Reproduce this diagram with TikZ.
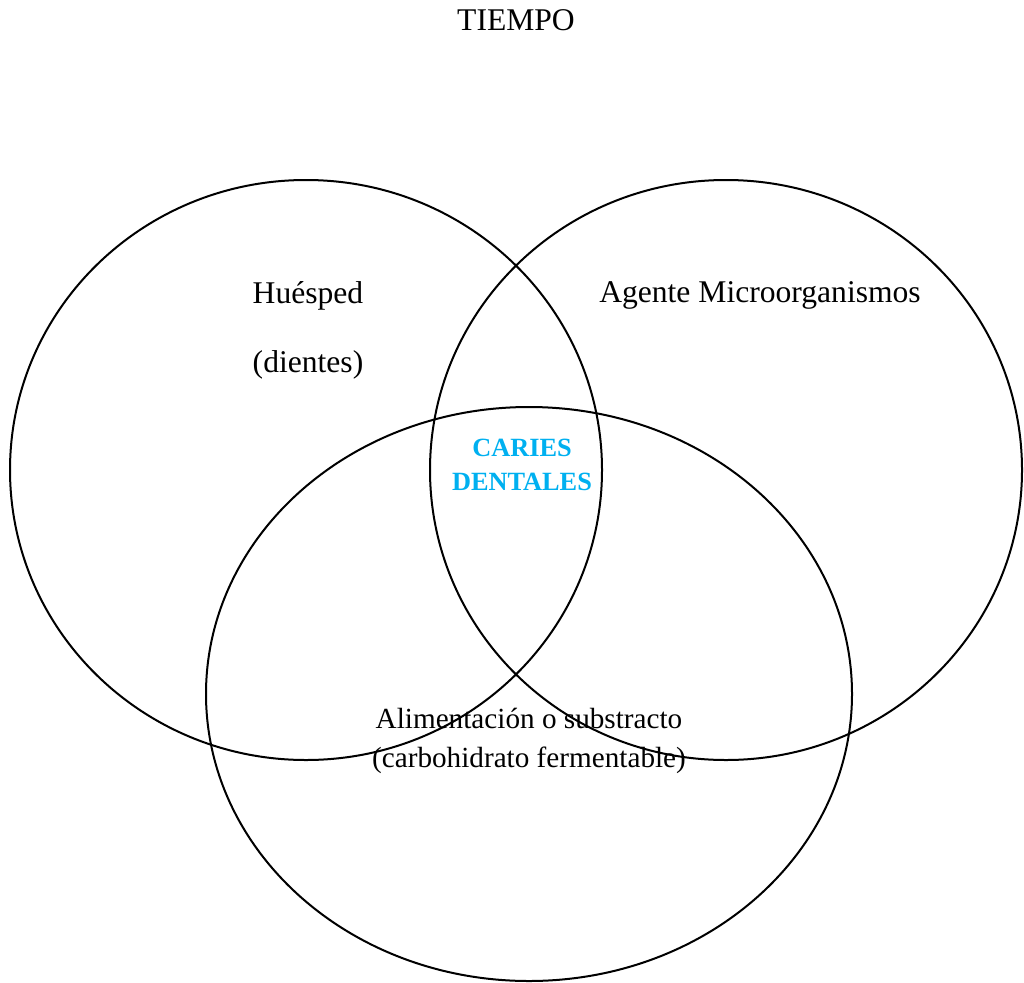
\documentclass[tikz,border=0pt]{standalone}
\usepackage{fontspec}
\setmainfont{Liberation Serif}
\definecolor{cariesblue}{HTML}{00B0F0}
\begin{document}
\begin{tikzpicture}[x=1pt,y=-1pt,
  setline/.style={draw=black,line width=2pt},
  lbl/.style={anchor=base,inner sep=0pt,font=\fontsize{31.6}{38}\selectfont},
  sublbl/.style={anchor=base,inner sep=0pt,font=\fontsize{29.2}{35}\selectfont},
  core/.style={anchor=base,inner sep=0pt,text=cariesblue,font=\fontsize{26.3}{32}\selectfont\bfseries}]
\useasboundingbox (0,0) rectangle (1024,982);
% three overlapping sets
\draw[setline] (306,470) ellipse [x radius=296, y radius=290];
\draw[setline] (726,470) ellipse [x radius=296, y radius=290];
\draw[setline] (529,694) ellipse [x radius=323, y radius=287];
% labels
\node[lbl] (tiempo) at (516,31) {TIEMPO};
\node[lbl] (huesped) at (308,303) {Huésped};
\node[lbl] (dientes) at (308,372) {(dientes)};
\node[lbl] (agente) at (760,302) {Agente Microorganismos};
\node[core] (caries) at (522,456) {CARIES};
\node[core] (dentales) at (522,490) {DENTALES};
\node[sublbl] (alim) at (529,728) {Alimentación o substracto};
\node[sublbl] (carbo) at (529,767) {(carbohidrato fermentable)};
\end{tikzpicture}
\end{document}
